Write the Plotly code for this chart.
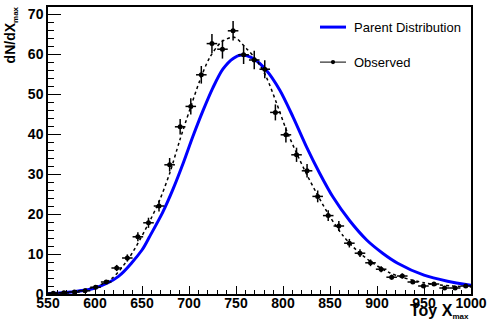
import plotly.graph_objects as go

# Observed histogram (bin centres, contents, errors)
obs_x = [555.6, 566.9, 578.1, 589.4, 600.6, 611.9, 623.1, 634.4, 645.6, 656.9,
         668.1, 679.4, 690.6, 701.9, 713.1, 724.4, 735.6, 746.9, 758.1, 769.4,
         780.6, 791.9, 803.1, 814.4, 825.6, 836.9, 848.1, 859.4, 870.6, 881.9,
         893.1, 904.4, 915.6, 926.9, 938.1, 949.4, 960.6, 971.9, 983.1, 994.4]
obs_y = [0.2, 0.3, 0.5, 0.8, 1.7, 3.0, 6.5, 9.0, 14.3, 17.8,
         22.0, 32.3, 41.8, 46.9, 54.8, 62.6, 61.2, 65.8, 59.8, 58.5,
         56.2, 45.4, 39.8, 34.8, 30.8, 24.4, 19.6, 17.0, 12.7, 10.2,
         7.8, 6.2, 4.2, 4.5, 3.0, 2.0, 2.5, 1.5, 1.5, 2.0]
obs_err = [0.15, 0.18, 0.22, 0.28, 0.4, 0.52, 0.77, 0.9, 1.13, 1.27,
           1.4, 1.7, 1.95, 2.05, 2.2, 2.4, 2.35, 2.45, 2.3, 2.3,
           2.25, 2.0, 1.9, 1.78, 1.67, 1.48, 1.33, 1.24, 1.07, 0.96,
           0.84, 0.75, 0.62, 0.64, 0.52, 0.42, 0.47, 0.37, 0.37, 0.42]
bin_half_width = 5.625

# Fit to observed (dashed curve)
fit_x = [550, 575, 600, 618, 637, 658, 669, 679.5, 690, 700.7, 711.4, 722, 734.5, 748,
         761, 771.7, 782.3, 793, 803.6, 814.3, 825, 835.5, 849.7, 863.8, 878, 895.7,
         913.5, 927.7, 950, 963.5, 980, 1000]
fit_y = [0.15, 0.5, 1.8, 3.9, 9.3, 18.1, 23.6, 30.2, 38.3, 46.0, 53.3, 59.1, 63.0, 64.2,
         61.4, 58.5, 54.2, 47.8, 41.0, 35.3, 30.0, 25.3, 19.4, 14.6, 11.0, 7.7,
         5.3, 4.1, 2.8, 2.3, 2.0, 1.75]

# Parent distribution (blue curve)
par_x = [550, 575, 600, 625, 650, 658, 672, 683, 694, 704, 715, 725.5, 736, 747, 756,
         768, 782, 796.5, 810.6, 825, 839, 853, 871, 889, 906, 922, 950, 975, 1000]
par_y = [0.1, 0.5, 1.5, 4.4, 11.0, 14.3, 20.4, 26.2, 32.8, 39.3, 45.9, 51.6, 56.2, 58.9, 59.75,
         58.9, 56.0, 51.0, 44.3, 36.8, 30.2, 24.3, 18.3, 13.5, 10.2, 7.7, 4.7, 3.2, 2.2]

x_ticks = [550, 600, 650, 700, 750, 800, 850, 900, 950, 1000]
y_ticks = [0, 10, 20, 30, 40, 50, 60, 70]

FONT = "Liberation Sans"

fig = go.Figure()
fig.add_trace(go.Scatter(x=par_x, y=par_y, mode="lines", line=dict(color="#0000ff", width=3, shape="spline", smoothing=0.8),
                         showlegend=False, hoverinfo="skip"))
fig.add_trace(go.Scatter(x=fit_x, y=fit_y, mode="lines", line=dict(color="black", width=1.5, dash="3px,3px", shape="spline", smoothing=0.8),
                         showlegend=False, hoverinfo="skip"))
fig.add_trace(go.Scatter(x=obs_x, y=obs_y, mode="markers", marker=dict(color="black", size=5),
                         error_y=dict(type="data", array=obs_err, color="black", thickness=1.5, width=0),
                         error_x=dict(type="constant", value=bin_half_width, color="black", thickness=1.5, width=0),
                         showlegend=False))

fig.update_layout(
    width=487, height=325,
    margin=dict(l=48, r=16, t=7, b=31),
    paper_bgcolor="white", plot_bgcolor="white",
    font=dict(family=FONT, color="black"),
    xaxis=dict(range=[550, 1000], tickvals=x_ticks, ticktext=["<b>%d</b>" % v for v in x_ticks],
               ticks="inside", ticklen=8, tickwidth=1, tickcolor="black", ticklabelstandoff=-5,
               minor=dict(dtick=10, tick0=550, ticks="inside", ticklen=4, tickcolor="black", tickwidth=1),
               showline=True, linecolor="black", linewidth=1.5, mirror=True, showgrid=False, zeroline=False,
               automargin=False, tickfont=dict(family=FONT, size=14)),
    yaxis=dict(range=[0, 71.75], tickvals=y_ticks, ticktext=["<b>%d</b>" % v for v in y_ticks],
               ticks="inside", ticklen=13, tickwidth=1, tickcolor="black",
               minor=dict(dtick=2, tick0=0, ticks="inside", ticklen=6, tickcolor="black", tickwidth=1),
               showline=True, linecolor="black", linewidth=1.5, mirror=True, showgrid=False, zeroline=False,
               automargin=False, tickfont=dict(family=FONT, size=14)),
)

# Axis titles
fig.add_annotation(xref="paper", yref="paper", x=1.0, y=-0.02, xanchor="right", yanchor="top",
                   text='<b>Toy X<sub><span style="font-size:8px">max</span></sub></b>',
                   showarrow=False, font=dict(family=FONT, size=16, color="black"))
fig.add_annotation(xref="paper", yref="paper", x=-0.088, y=1.01, xanchor="center", yanchor="top",
                   textangle=-90,
                   text='<b>dN/dX<sub><span style="font-size:8px">max</span></sub></b>',
                   showarrow=False, font=dict(family=FONT, size=14, color="black"))

# Legend (drawn manually)
leg_x0, leg_x1, leg_tx = 0.643, 0.7045, 0.7187
leg_rows = [("Parent Distribution", 0.930, "#0000ff", 3, False),
            ("Observed", 0.808, "black", 1, True)]
for label, yy, col, w, dot in leg_rows:
    fig.add_shape(type="line", xref="paper", yref="paper", x0=leg_x0, x1=leg_x1, y0=yy, y1=yy,
                  line=dict(color=col, width=w))
    if dot:
        xm = (leg_x0 + leg_x1) / 2
        fig.add_shape(type="circle", xref="paper", yref="paper",
                      x0=xm - 0.005, x1=xm + 0.005, y0=yy - 0.0075, y1=yy + 0.0075,
                      fillcolor="black", line=dict(color="black", width=0))
    fig.add_annotation(xref="paper", yref="paper", x=leg_tx, y=yy, xanchor="left", yanchor="middle",
                       text=label, showarrow=False, font=dict(family=FONT, size=13, color="black"))

fig.write_html("out.html", config={"displayModeBar": False},
               post_script="document.body.style.margin='0px';")
